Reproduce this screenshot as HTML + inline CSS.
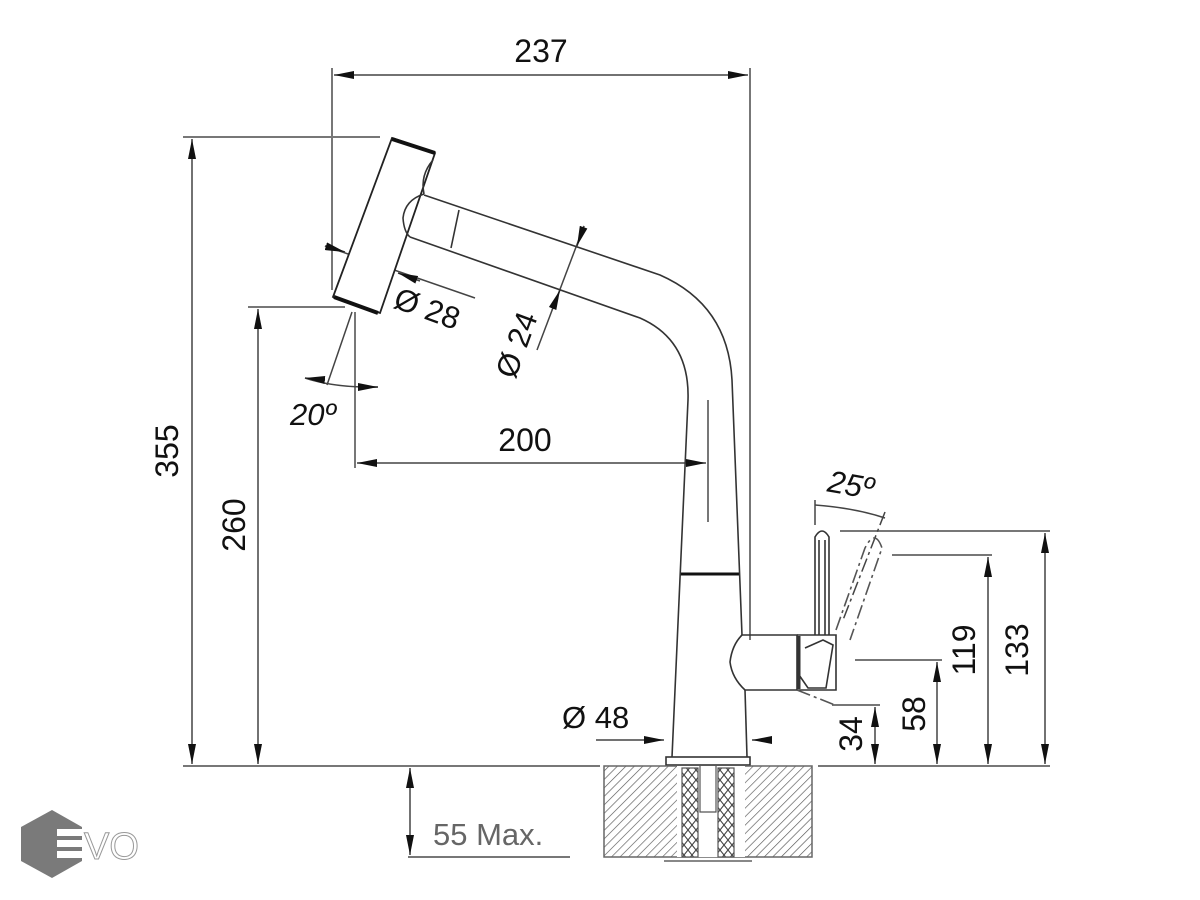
<!DOCTYPE html>
<html><head><meta charset="utf-8"><style>
html,body{margin:0;padding:0;background:#fff;width:1200px;height:900px;overflow:hidden}
svg{display:block}
text{font-family:"Liberation Sans",sans-serif;fill:#111}
</style></head><body>
<svg width="1200" height="900" viewBox="0 0 1200 900" xmlns="http://www.w3.org/2000/svg">
<defs>
<marker id="a" viewBox="0 0 20 8" refX="20" refY="4" markerWidth="20" markerHeight="8" markerUnits="userSpaceOnUse" orient="auto-start-reverse"><path d="M0,0 L20,4 L0,8 z" fill="#111"/></marker>
<pattern id="h" patternUnits="userSpaceOnUse" width="6" height="6" patternTransform="rotate(45)"><line x1="0" y1="0" x2="0" y2="6" stroke="#555" stroke-width="1.3"/></pattern>
<pattern id="x" patternUnits="userSpaceOnUse" width="8" height="10"><path d="M0,0 L8,10 M8,0 L0,10" stroke="#444" stroke-width="1.1"/></pattern>
</defs>
<g stroke="#777" stroke-width="2" fill="none">
<line x1="332" y1="68" x2="332" y2="290"/>
<line x1="750" y1="68" x2="750" y2="640"/>
<line x1="183" y1="137" x2="380" y2="137"/>
<line x1="248" y1="307" x2="345" y2="307"/>
<line x1="183" y1="766" x2="600" y2="766"/>
<line x1="818" y1="766" x2="1050" y2="766"/>
<line x1="840" y1="531" x2="1050" y2="531"/>
<line x1="892" y1="555" x2="992" y2="555"/>
<line x1="855" y1="660" x2="942" y2="660"/>
<line x1="832" y1="705" x2="880" y2="705"/>
<line x1="355" y1="312" x2="355" y2="468"/>
<line x1="708" y1="400" x2="708" y2="522"/>
<line x1="408" y1="857" x2="570" y2="857"/>
</g>
<g stroke="#444" stroke-width="1.5" fill="none">
<line x1="334" y1="75" x2="748" y2="75" marker-start="url(#a)" marker-end="url(#a)"/>
<line x1="192" y1="139" x2="192" y2="764" marker-start="url(#a)" marker-end="url(#a)"/>
<line x1="258" y1="309" x2="258" y2="764" marker-start="url(#a)" marker-end="url(#a)"/>
<line x1="357" y1="463" x2="706" y2="463" marker-start="url(#a)" marker-end="url(#a)"/>
<line x1="1045" y1="533" x2="1045" y2="764" marker-start="url(#a)" marker-end="url(#a)"/>
<line x1="988" y1="557" x2="988" y2="764" marker-start="url(#a)" marker-end="url(#a)"/>
<line x1="937" y1="662" x2="937" y2="764" marker-start="url(#a)" marker-end="url(#a)"/>
<line x1="875" y1="707" x2="875" y2="764" marker-start="url(#a)" marker-end="url(#a)"/>
<line x1="410" y1="768" x2="410" y2="855" marker-start="url(#a)" marker-end="url(#a)"/>
<line x1="596" y1="740" x2="664" y2="740" marker-end="url(#a)"/>
<line x1="772" y1="740" x2="752" y2="740" marker-end="url(#a)"/>
<line x1="325" y1="246" x2="475" y2="298"/>
<path d="M325,246 L345,252" marker-end="url(#a)"/>
<path d="M420,281 L398,273" marker-end="url(#a)"/>
<line x1="584" y1="226" x2="537" y2="350"/>
<path d="M584,226 L577,246" marker-end="url(#a)"/>
<path d="M552,310 L560,290" marker-end="url(#a)"/>
<line x1="352" y1="312" x2="327" y2="385"/>
<path d="M305,378 Q335,388 378,387"/>
<path d="M325,380 L305,378" marker-end="url(#a)"/>
<path d="M358,387 L378,387" marker-end="url(#a)"/>
<line x1="815" y1="500" x2="815" y2="525"/>
<path d="M815,505 Q855,508 885,518"/>
<line x1="885" y1="512" x2="843" y2="620" stroke-dasharray="14,4,3,4"/>
</g>
<g stroke="#222" stroke-width="1.8" fill="#fff">
<path d="M392,138 L435,153 L380,313 L333,297 Z"/>
</g>
<g stroke="#111" stroke-width="4" fill="none">
<line x1="392" y1="139" x2="435" y2="153"/>
<line x1="334" y1="297" x2="378" y2="313"/>
<line x1="680" y1="574" x2="740" y2="574" stroke-width="3"/>
</g>
<g stroke="#333" stroke-width="1.6" fill="none">
<path d="M433,160 Q420,175 424,194"/>
<path d="M424,194 Q405,200 403,218 Q404,232 410,237"/>
<path d="M424,195 L660,275 Q728,305 732,380 L742,635"/>
<path d="M410,237 L640,318 Q690,340 688,400 L672,757"/>
<line x1="459" y1="210" x2="451" y2="248"/>
<line x1="745" y1="690" x2="747" y2="757"/>
<rect x="666" y="757" width="84" height="8"/>
<path d="M742,635 L797,635 L797,690 L745,690 Q732,678 730,662 Q732,645 742,635 Z"/>
<path d="M797,635 L836,635 L836,690 L797,690"/>
<path d="M805,648 L823,640 L833,645 L826,688 L808,688 L797,672"/>
<line x1="799" y1="636" x2="799" y2="689" stroke-width="3"/>
<path d="M815,635 L815,537 Q822,525 829,537 L829,635"/>
<line x1="819" y1="540" x2="819" y2="635"/>
<line x1="825" y1="540" x2="825" y2="635"/>
<path d="M836,630 L865,548 Q875,528 882,548 L850,640" stroke-dasharray="14,4,3,4" stroke="#555"/>
<path d="M797,690 L835,705" stroke-dasharray="14,4,3,4" stroke="#555"/>
</g>
<rect x="604" y="766" width="208" height="91" fill="url(#h)" stroke="#666" stroke-width="1.5"/>
<rect x="677" y="766" width="68" height="91" fill="#fff" stroke="none"/>
<rect x="682" y="768" width="16" height="89" fill="url(#x)" stroke="#555" stroke-width="1.2"/>
<rect x="718" y="768" width="16" height="89" fill="url(#x)" stroke="#555" stroke-width="1.2"/>
<path d="M700,766 L700,812 L716,812 L716,766" fill="none" stroke="#555" stroke-width="1.2"/>
<line x1="664" y1="861" x2="752" y2="861" stroke="#888" stroke-width="2"/>
<g font-size="32">
<text x="541" y="62" text-anchor="middle">237</text>
<text x="525" y="451" text-anchor="middle">200</text>
<text transform="translate(178,451) rotate(-90)" text-anchor="middle">355</text>
<text transform="translate(245,525) rotate(-90)" text-anchor="middle">260</text>
<text transform="translate(1028,650) rotate(-90)" text-anchor="middle">133</text>
<text transform="translate(975,650) rotate(-90)" text-anchor="middle">119</text>
<text transform="translate(925,714) rotate(-90)" text-anchor="middle">58</text>
<text transform="translate(862,734) rotate(-90)" text-anchor="middle">34</text>
<text x="562" y="728" font-size="31">Ø 48</text>
<text transform="translate(392,307) rotate(20)" font-size="31">Ø 28</text>
<text transform="translate(515,380) rotate(-70)" font-size="31">Ø 24</text>
<text x="290" y="425" font-size="31" font-style="italic">20º</text>
<text x="828" y="497" font-size="31" font-style="italic" transform="rotate(10 860 485)">25º</text>
<text x="433" y="845" font-size="31" style="fill:#666">55 Max.</text>
</g>
<polygon points="52,810 82,827 82,861 52,878 21,861 21,827" fill="#7a7a7a"/>
<g fill="#fff"><rect x="57" y="829" width="26" height="7"/><rect x="57" y="840" width="26" height="7"/><rect x="57" y="851" width="26" height="7"/></g>
<text x="84" y="859" font-size="38" style="fill:#fff;stroke:#999;stroke-width:1">VO</text>
</svg>
</body></html>
